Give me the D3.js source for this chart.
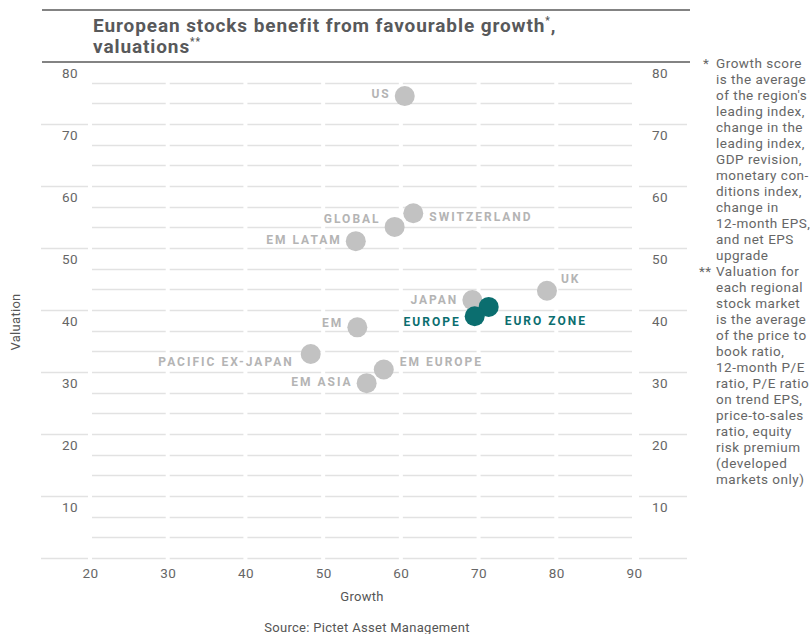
<!DOCTYPE html>
<html>

<head>
    <meta charset="utf-8">
    <script src="https://d3js.org/d3.v7.min.js"></script>
    <style>
        body { margin: 0; background: #fff; }
        text { font-family: Roboto, "Noto Sans", sans-serif; }
    </style>
</head>
<body>
    <script>
        // data
        let regions = ["US", "Switzerland", "Global", "EM Latam", "UK", "Japan",
            "Euro zone", "Europe", "EM", "Pacific ex-Japan", "EM Europe", "EM Asia"];
        let growth = [60.5, 61.6, 59.2, 54.2, 78.8, 69.2, 71.3, 69.5, 54.4, 48.4, 57.8, 55.6];
        let valuation = [74.5, 55.6, 53.4, 51.1, 43.1, 41.6, 40.5, 39.0, 37.2, 32.9, 30.4, 28.2];
        let highlighted = ["Europe", "Euro zone"];
        let xTicks = [20, 30, 40, 50, 60, 70, 80, 90];
        let yTicks = [10, 20, 30, 40, 50, 60, 70, 80];

        // where each label sits relative to its dot: side, dx, dy
        let labelPlace = {
            "US": ["left", 0, -2],
            "Switzerland": ["right", 0, 3],
            "Global": ["left", 0, -8],
            "EM Latam": ["left", 0, -2],
            "UK": ["right", -2, -12],
            "Japan": ["left", 0, 0],
            "Euro zone": ["right", 0, 14],
            "Europe": ["left", 0, 5],
            "EM": ["left", 0, -5],
            "Pacific ex-Japan": ["left", -3, 8],
            "EM Europe": ["right", 0, -8],
            "EM Asia": ["left", 0, -1]
        };

        let notes1 = ["Growth score", "is the average", "of the region's", "leading index,",
            "change in the", "leading index,", "GDP revision,", "monetary con-", "ditions index,",
            "change in", "12-month EPS,", "and net EPS", "upgrade"];
        let notes2 = ["Valuation for", "each regional", "stock market", "is the average",
            "of the price to", "book ratio,", "12-month P/E", "ratio, P/E ratio", "on trend EPS,",
            "price-to-sales", "ratio, equity", "risk premium", "(developed", "markets only)"];

        let width = 811,
            height = 634;

        let svg = d3.select("body").append("svg")
            .attr("width", width)
            .attr("height", height);

        let x = d3.scaleLinear().domain([20, 90]).range([90, 634]);
        let y = d3.scaleLinear().domain([0, 80]).range([558, 62]);

        // gridlines, broken at every x tick
        let grid = svg.append("g").attr("class", "grid");
        d3.range(0, 24).forEach(function(i) {
            let v = i * 10 / 3;
            let yy = Math.round(y(v)) + 0.5;
            let major = i % 3 == 0;
            let segs = [];
            for (let k = 0; k < xTicks.length - 1; k++) {
                segs.push([x(xTicks[k]) + 2, x(xTicks[k + 1]) - 2]);
            }
            if (major) {
                segs.push([41, x(20) - 2]);
                segs.push([x(90) + 5, 687]);
            }
            grid.selectAll(null)
                .data(segs)
                .join("line")
                    .attr("x1", d => d[0])
                    .attr("x2", d => d[1])
                    .attr("y1", yy)
                    .attr("y2", yy)
                    .attr("stroke", "#e2e2e2")
                    .attr("stroke-width", 1.6);
        });

        // top rules
        svg.selectAll(".rule")
            .data([10, 62])
            .join("line")
                .attr("class", "rule")
                .attr("x1", 42)
                .attr("x2", 690)
                .attr("y1", d => d)
                .attr("y2", d => d)
                .attr("stroke", "#5a5a5a")
                .attr("stroke-width", 1.5);

        // title
        let title = svg.append("text")
            .attr("x", 93)
            .attr("fill", "#58595b")
            .attr("font-size", 19)
            .attr("letter-spacing", 0.9)
            .attr("font-weight", "bold");
        title.append("tspan").attr("x", 93).attr("y", 32).text("European stocks benefit from favourable growth");
        title.append("tspan").attr("font-size", 10).attr("dy", -8).text("*");
        title.append("tspan").attr("dy", 8).text(",");
        title.append("tspan").attr("x", 93).attr("y", 53).text("valuations");
        title.append("tspan").attr("font-size", 10).attr("dy", -8).text("**");

        // axes
        let styleAxis = function(g) {
            g.select(".domain").remove();
            g.selectAll("text")
                .attr("fill", "#666")
                .attr("font-size", 13.5)
                .attr("letter-spacing", 0.4)
                .attr("font-family", "Roboto, sans-serif");
        };

        svg.append("g")
            .attr("transform", "translate(90,0)")
            .call(d3.axisLeft(y).tickValues(yTicks).tickSize(0).tickPadding(12))
            .call(styleAxis)
            .selectAll("text").attr("y", 11);

        svg.append("g")
            .attr("transform", "translate(634,0)")
            .call(d3.axisRight(y).tickValues(yTicks).tickSize(0).tickPadding(18))
            .call(styleAxis)
            .selectAll("text").attr("y", 11);

        svg.append("g")
            .attr("transform", "translate(0,558)")
            .call(d3.axisBottom(x).tickValues(xTicks).tickSize(0).tickPadding(10))
            .call(styleAxis);

        svg.append("text")
            .attr("x", (x(20) + x(90)) / 2)
            .attr("y", 601)
            .attr("text-anchor", "middle")
            .attr("fill", "#555")
            .attr("font-size", 13)
            .attr("letter-spacing", 0.3)
            .text("Growth");

        svg.append("text")
            .attr("transform", "translate(20,322) rotate(-90)")
            .attr("text-anchor", "middle")
            .attr("fill", "#555")
            .attr("font-size", 13)
            .attr("letter-spacing", 0.3)
            .text("Valuation");

        svg.append("text")
            .attr("x", 367)
            .attr("y", 632)
            .attr("text-anchor", "middle")
            .attr("fill", "#555")
            .attr("font-size", 13)
            .attr("letter-spacing", 0.3)
            .text("Source: Pictet Asset Management");

        // points
        let data = regions.map(function(r, i) {
            return { name: r, gx: growth[i], vy: valuation[i], hi: highlighted.indexOf(r) >= 0 };
        });
        // highlighted ones last so they sit on top
        data.sort((a, b) => a.hi - b.hi);

        let r = 10;
        svg.append("g")
            .selectAll("circle")
            .data(data)
            .join("circle")
                .attr("cx", d => x(d.gx))
                .attr("cy", d => y(d.vy))
                .attr("r", r)
                .attr("fill", d => d.hi ? "#0b6e6f" : "#c2c2c2");

        svg.append("g")
            .selectAll("text")
            .data(data)
            .join("text")
                .attr("x", function(d) {
                    let p = labelPlace[d.name];
                    return p[0] == "left" ? x(d.gx) - r - 4 + p[1] : x(d.gx) + r + 6 + p[1];
                })
                .attr("y", d => y(d.vy) + labelPlace[d.name][2])
                .attr("dy", "0.36em")
                .attr("text-anchor", d => labelPlace[d.name][0] == "left" ? "end" : "start")
                .attr("fill", d => d.hi ? "#0b6e6f" : "#b4b4b4")
                .attr("font-size", 12)
                .attr("font-weight", "bold")
                .attr("letter-spacing", 2)
                .text(d => d.name.toUpperCase());

        // footnotes on the right
        let notes = svg.append("g").attr("fill", "#666").attr("font-size", 13.5).attr("letter-spacing", 0.5);
        let lineH = 16;
        notes.append("text").attr("x", 703).attr("y", 68).text("*");
        notes.selectAll(".n1")
            .data(notes1)
            .join("text")
                .attr("class", "n1")
                .attr("x", 716)
                .attr("y", (d, i) => 68 + i * lineH)
                .text(d => d);
        let top2 = 68 + notes1.length * lineH;
        notes.append("text").attr("x", 699).attr("y", top2).text("**");
        notes.selectAll(".n2")
            .data(notes2)
            .join("text")
                .attr("class", "n2")
                .attr("x", 716)
                .attr("y", (d, i) => top2 + i * lineH)
                .text(d => d);
    </script>
</body>
</html>
